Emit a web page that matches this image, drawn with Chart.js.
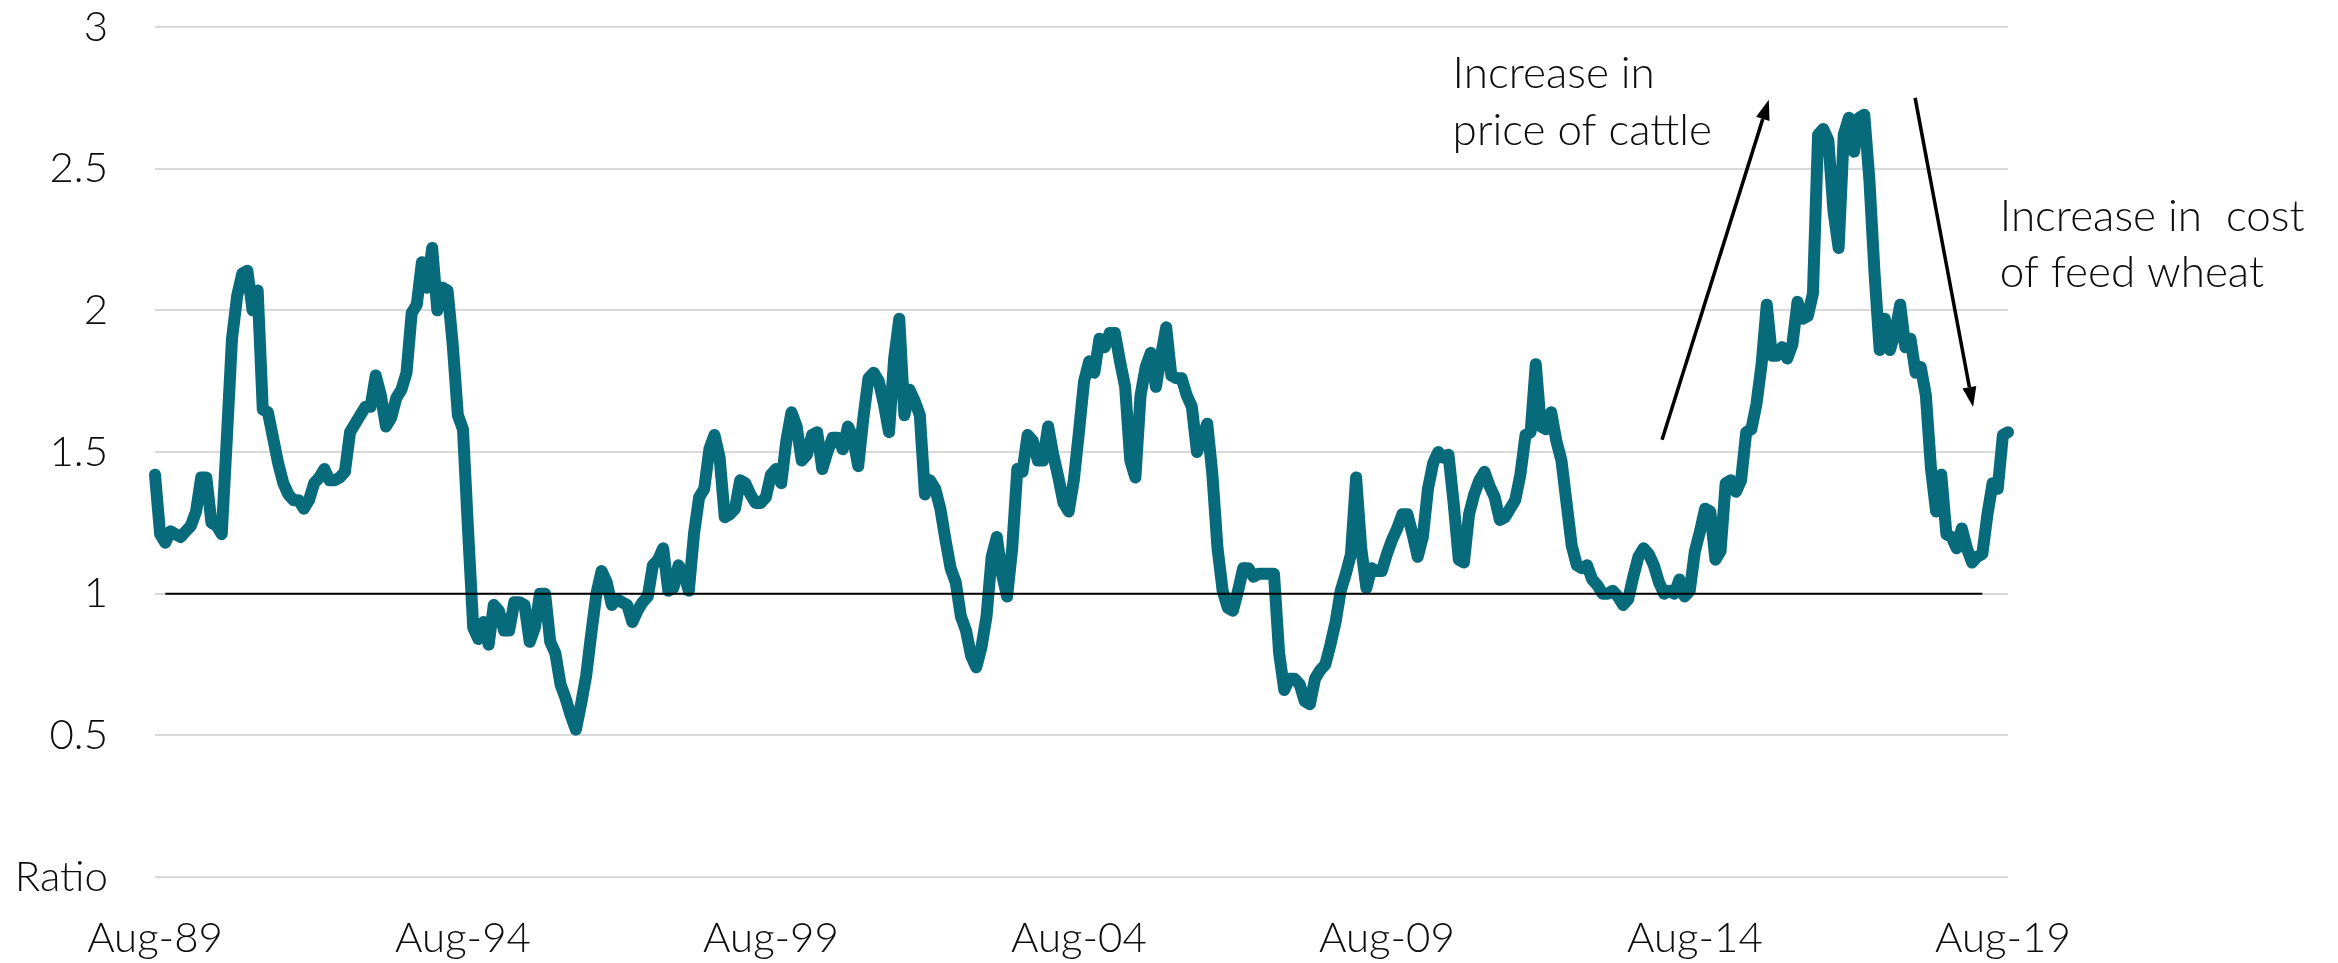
<!DOCTYPE html>
<html>
<head>
<meta charset="utf-8">
<script src="https://cdn.jsdelivr.net/npm/chart.js@4/dist/chart.umd.min.js"></script>
<style>
  html, body { margin: 0; padding: 0; background: #fff; }
  #chart { display: block; }
</style>
</head>
<body>
<canvas id="chart" width="2338" height="963"></canvas>
<script>
// monthly ratio, Aug-89 .. Sep-19
const startYear = 1989;
const startMonth = 7; // August
const monthNames = ["Jan", "Feb", "Mar", "Apr", "May", "Jun", "Jul", "Aug", "Sep", "Oct", "Nov", "Dec"];

const ratio = [
  1.42, 1.21, 1.18, 1.22, 1.21, 1.20, 1.22, 1.24, 1.29, 1.41,
  1.41, 1.25, 1.24, 1.21, 1.55, 1.90, 2.05, 2.13, 2.14, 2.00,
  2.07, 1.65, 1.64, 1.55, 1.46, 1.39, 1.35, 1.33, 1.33, 1.30,
  1.33, 1.39, 1.41, 1.44, 1.40, 1.40, 1.41, 1.43, 1.57, 1.60,
  1.63, 1.66, 1.66, 1.77, 1.70, 1.59, 1.62, 1.69, 1.72, 1.78,
  1.99, 2.02, 2.17, 2.08, 2.22, 2.00, 2.08, 2.07, 1.88, 1.63,
  1.58, 1.22, 0.88, 0.84, 0.90, 0.82, 0.96, 0.94, 0.87, 0.87,
  0.97, 0.97, 0.96, 0.83, 0.88, 1.00, 1.00, 0.83, 0.79, 0.68,
  0.63, 0.57, 0.52, 0.61, 0.71, 0.86, 1.00, 1.08, 1.04, 0.96,
  0.98, 0.97, 0.96, 0.90, 0.94, 0.97, 0.99, 1.10, 1.12, 1.16,
  1.01, 1.02, 1.10, 1.07, 1.01, 1.21, 1.34, 1.37, 1.51, 1.56,
  1.48, 1.27, 1.28, 1.30, 1.40, 1.39, 1.35, 1.32, 1.32, 1.34,
  1.42, 1.44, 1.39, 1.54, 1.64, 1.59, 1.47, 1.49, 1.56, 1.57,
  1.44, 1.50, 1.55, 1.55, 1.51, 1.59, 1.55, 1.45, 1.62, 1.76,
  1.78, 1.75, 1.67, 1.57, 1.83, 1.97, 1.63, 1.72, 1.68, 1.63,
  1.35, 1.40, 1.37, 1.30, 1.19, 1.09, 1.04, 0.92, 0.87, 0.78,
  0.74, 0.81, 0.92, 1.13, 1.20, 1.07, 0.99, 1.16, 1.44, 1.43,
  1.56, 1.54, 1.47, 1.47, 1.59, 1.49, 1.41, 1.32, 1.29, 1.40,
  1.57, 1.75, 1.82, 1.78, 1.90, 1.87, 1.92, 1.92, 1.82, 1.73,
  1.47, 1.41, 1.70, 1.80, 1.85, 1.73, 1.84, 1.94, 1.77, 1.76,
  1.76, 1.70, 1.66, 1.50, 1.55, 1.60, 1.42, 1.16, 1.01, 0.95,
  0.94, 1.01, 1.09, 1.09, 1.06, 1.07, 1.07, 1.07, 1.07, 0.79,
  0.66, 0.70, 0.70, 0.68, 0.62, 0.61, 0.70, 0.73, 0.75, 0.82,
  0.90, 1.01, 1.07, 1.14, 1.41, 1.16, 1.02, 1.09, 1.08, 1.08,
  1.14, 1.19, 1.23, 1.28, 1.28, 1.21, 1.13, 1.20, 1.37, 1.46,
  1.50, 1.48, 1.49, 1.32, 1.12, 1.11, 1.28, 1.35, 1.40, 1.43,
  1.38, 1.34, 1.26, 1.27, 1.30, 1.33, 1.42, 1.56, 1.57, 1.81,
  1.59, 1.58, 1.64, 1.54, 1.47, 1.32, 1.17, 1.10, 1.09, 1.10,
  1.05, 1.03, 1.00, 1.00, 1.01, 0.99, 0.96, 0.98, 1.06, 1.13,
  1.16, 1.14, 1.10, 1.04, 1.00, 1.01, 1.00, 1.05, 0.99, 1.01,
  1.15, 1.22, 1.30, 1.29, 1.12, 1.15, 1.39, 1.40, 1.36, 1.40,
  1.57, 1.58, 1.67, 1.81, 2.02, 1.84, 1.84, 1.87, 1.83, 1.88,
  2.03, 1.97, 1.98, 2.06, 2.62, 2.64, 2.60, 2.35, 2.22, 2.62,
  2.68, 2.56, 2.68, 2.69, 2.46, 2.13, 1.86, 1.97, 1.86, 1.92,
  2.02, 1.87, 1.90, 1.78, 1.80, 1.70, 1.44, 1.29, 1.42, 1.21,
  1.20, 1.16, 1.23, 1.16, 1.11, 1.13, 1.14, 1.28, 1.39, 1.37,
  1.56, 1.57
];

// black reference line at 1
const refLevel = 1;
const refFrom = "Oct-89";
const refTo = "Apr-19";

// y axis
const yMin = 0;
const yMax = 3;
const yStep = 0.5;
const yZeroLabel = "Ratio";
const xLabelEvery = 60;

// annotations, placed in data coordinates (month index, ratio)
const notes = [
  { text: "Increase in", at: [252.8, 2.785] },
  { text: "price of cattle", at: [252.8, 2.584] },
  { text: "Increase in  cost", at: [359.4, 2.28] },
  { text: "of feed wheat", at: [359.4, 2.083] }
];
const arrows = [
  { from: [293.6, 1.543], to: [314.4, 2.743] },
  { from: [342.9, 2.75], to: [354.2, 1.659] }
];

const labels = [];
for (let i = 0; i < ratio.length; i++) {
  const m = (startMonth + i) % 12;
  const y = startYear + Math.floor((startMonth + i) / 12);
  labels.push(monthNames[m] + "-" + String(y % 100).padStart(2, "0"));
}

const iFrom = labels.indexOf(refFrom);
const iTo = labels.indexOf(refTo);
const refLine = labels.map((l, i) => (i >= iFrom && i <= iTo ? refLevel : null));

const FONT = "Lato";
const TEXT_COLOR = "#0d0d0d";

const annotationPlugin = {
  id: "notes",
  afterDatasetsDraw(chart) {
    const ctx = chart.ctx;
    const x = chart.scales.x;
    const y = chart.scales.y;
    ctx.save();
    ctx.fillStyle = TEXT_COLOR;
    ctx.font = "300 44px " + FONT;
    ctx.textAlign = "left";
    ctx.textBaseline = "alphabetic";
    notes.forEach(n => {
      ctx.fillText(n.text, x.getPixelForValue(n.at[0]), y.getPixelForValue(n.at[1]));
    });

    ctx.strokeStyle = "#000";
    ctx.fillStyle = "#000";
    ctx.lineWidth = 3.5;
    arrows.forEach(a => {
      const x1 = x.getPixelForValue(a.from[0]);
      const y1 = y.getPixelForValue(a.from[1]);
      const x2 = x.getPixelForValue(a.to[0]);
      const y2 = y.getPixelForValue(a.to[1]);
      const ang = Math.atan2(y2 - y1, x2 - x1);
      const head = 20;
      const half = 7;
      const bx = x2 - head * Math.cos(ang);
      const by = y2 - head * Math.sin(ang);
      ctx.beginPath();
      ctx.moveTo(x1, y1);
      ctx.lineTo(bx, by);
      ctx.stroke();
      ctx.beginPath();
      ctx.moveTo(x2, y2);
      ctx.lineTo(bx + half * Math.sin(ang), by - half * Math.cos(ang));
      ctx.lineTo(bx - half * Math.sin(ang), by + half * Math.cos(ang));
      ctx.closePath();
      ctx.fill();
    });
    ctx.restore();
  }
};

new Chart(document.getElementById("chart"), {
  type: "line",
  data: {
    labels: labels,
    datasets: [
      {
        label: "Parity",
        data: refLine,
        borderColor: "#000000",
        borderWidth: 2,
        pointRadius: 0,
        order: 0
      },
      {
        label: "Ratio",
        data: ratio,
        borderColor: "#076b7b",
        borderWidth: 12,
        borderJoinStyle: "round",
        borderCapStyle: "round",
        pointRadius: 0,
        tension: 0,
        order: 1
      }
    ]
  },
  options: {
    responsive: false,
    animation: false,
    devicePixelRatio: 1,
    layout: { padding: { left: 0, right: 330, top: 27, bottom: 0 } },
    plugins: {
      legend: { display: false },
      tooltip: { enabled: false }
    },
    scales: {
      x: {
        grid: { display: false, drawTicks: false },
        border: { display: false },
        afterFit: s => { s.height = 86; },
        ticks: {
          autoSkip: false,
          maxRotation: 0,
          minRotation: 0,
          padding: 36,
          color: TEXT_COLOR,
          font: { family: FONT, size: 42, weight: "300" },
          callback: (v, i) => (i % xLabelEvery === 0 ? labels[i] : "")
        }
      },
      y: {
        min: yMin,
        max: yMax,
        grid: { color: "#d9d9d9", lineWidth: 2, drawTicks: false },
        border: { display: false },
        afterFit: s => {
          s.width = 155;
          s.paddingTop = 0;
          s.paddingBottom = 0;
        },
        ticks: {
          stepSize: yStep,
          padding: 47,
          color: TEXT_COLOR,
          font: { family: FONT, size: 42, weight: "300" },
          callback: v => (v === 0 ? yZeroLabel : v)
        }
      }
    }
  },
  plugins: [annotationPlugin]
});
</script>
</body>
</html>
